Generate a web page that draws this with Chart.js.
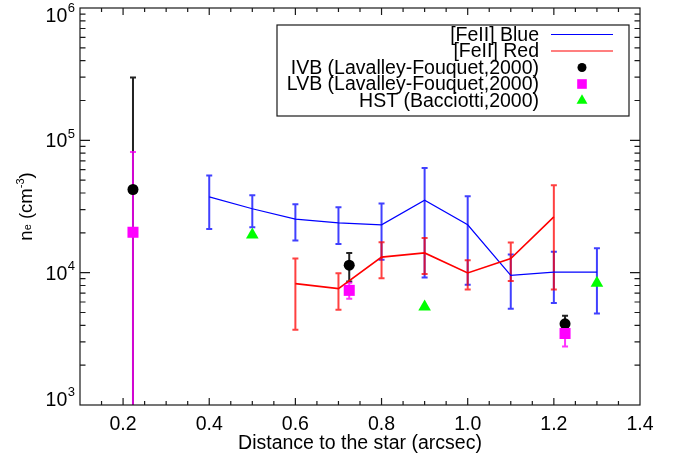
<!DOCTYPE html>
<html>
<head>
<meta charset="utf-8">
<script src="https://cdn.jsdelivr.net/npm/chart.js@4.4.0/dist/chart.umd.min.js"></script>
<style>
  html, body { margin: 0; padding: 0; background: #fff; }
  #box { width: 675px; height: 459px; }
</style>
</head>
<body>
<div id="box"><canvas id="neChart"></canvas></div>
<script>
// ---- Datos ----
const xTicks = [0.2, 0.4, 0.6, 0.8, 1.0, 1.2, 1.4];
const yTicks = [1e3, 1e4, 1e5, 1e6];

const blueX  = [0.4, 0.5, 0.6, 0.7, 0.8, 0.9, 1.0, 1.1, 1.2, 1.3];
const blueNe = [37400, 30400, 25400, 23800, 23000, 35300, 23000, 9550, 10100, 10100];
const blueHi = [54300, 38500, 32900, 31200, 33300, 61700, 37800, 13700, 14400, 15300];
const blueLo = [21400, 22000, 17500, 16500, 12500, 9200, 8100, 5340, 5890, 4920];

const redX  = [0.6, 0.7, 0.8, 0.9, 1.0, 1.1, 1.2];
const redNe = [8260, 7570, 13100, 14100, 9950, 12800, 26400];
const redHi = [12800, 9890, 17000, 18300, 12400, 16900, 45800];
const redLo = [3700, 5250, 9080, 9770, 7460, 8650, 7460];

const ivbX  = [0.223, 0.725, 1.226];
const ivbNe = [42500, 11400, 4110];
const ivbHi = [298000, 14100, 4720];
const ivbLo = [500, 8590, 3600];   // la primera barra sale por debajo del eje

const lvbX  = [0.223, 0.725, 1.226];
const lvbNe = [20200, 7350, 3470];
const lvbHi = [81500, 8400, 4110];
const lvbLo = [500, 6350, 2770];

const hstX  = [0.5, 0.9, 1.3];
const hstNe = [19300, 5520, 8350];

const FONT = "Liberation Sans, Helvetica, Arial, sans-serif";
const FS = 19.5;

function pts(xs, ys) {
  return xs.map((x, i) => ({ x, y: ys[i] }));
}

// ---- Barras de error ----
const errorBars = {
  id: "errorBars",
  beforeDatasetsDraw(chart) {
    const { ctx, chartArea: a, scales: { x, y } } = chart;
    ctx.save();
    ctx.beginPath();
    ctx.rect(a.left, a.top, a.right - a.left, a.bottom - a.top);
    ctx.clip();
    // mismo orden que los marcadores: el de menor "order" encima
    const sets = chart.data.datasets.slice().sort((p, q) => q.order - p.order);
    sets.forEach(ds => {
      if (!ds.errLo) return;
      ctx.strokeStyle = ds.errColor;
      ctx.lineWidth = 2;
      ds.data.forEach((p, i) => {
        const px = x.getPixelForValue(p.x);
        const top = y.getPixelForValue(ds.errHi[i]);
        const bot = y.getPixelForValue(ds.errLo[i]);
        ctx.beginPath();
        ctx.moveTo(px, top); ctx.lineTo(px, bot);
        ctx.moveTo(px - 3, top); ctx.lineTo(px + 3, top);
        ctx.moveTo(px - 3, bot); ctx.lineTo(px + 3, bot);
        ctx.stroke();
      });
    });
    ctx.restore();
  }
};

// ---- Marco, marcas hacia dentro, etiquetas del eje y, leyenda ----
const frameAndLegend = {
  id: "frameAndLegend",
  afterDraw(chart) {
    const { ctx, chartArea: a, scales: { x, y } } = chart;
    ctx.save();
    ctx.strokeStyle = "#1a1a1a";
    ctx.lineWidth = 1.2;
    ctx.strokeRect(a.left, a.top, a.right - a.left, a.bottom - a.top);

    ctx.beginPath();
    // eje x: mayores cada 0.2, menores cada 0.05
    for (let k = 3; k < 28; k++) {
      const v = k * 0.05;
      const px = x.getPixelForValue(v);
      const major = k % 4 === 0;
      const len = major ? 7 : 4;
      ctx.moveTo(px, a.bottom); ctx.lineTo(px, a.bottom - len);
      ctx.moveTo(px, a.top); ctx.lineTo(px, a.top + len);
    }
    // eje y: décadas y 2..9
    yTicks.forEach((d, j) => {
      for (let m = 1; m <= 9; m++) {
        const v = d * m;
        if (v > 1e6 || (m === 1 && (j === 0 || j === yTicks.length - 1))) continue;
        const py = y.getPixelForValue(v);
        const len = m === 1 ? 10 : 5.5;
        ctx.moveTo(a.left, py); ctx.lineTo(a.left + len, py);
        ctx.moveTo(a.right, py); ctx.lineTo(a.right - len, py);
      }
    });
    ctx.stroke();

    // etiquetas 10^n (las de los extremos van algo hacia dentro)
    ctx.fillStyle = "#000";
    yTicks.forEach((v, j) => {
      let py = y.getPixelForValue(v);
      if (j === 0) py -= 6.5;
      if (j === yTicks.length - 1) py += 6.5;
      const exp = String(Math.round(Math.log10(v)));
      ctx.font = "13px " + FONT;
      const ew = ctx.measureText(exp).width;
      ctx.textAlign = "left";
      ctx.textBaseline = "alphabetic";
      ctx.fillText(exp, a.left - 5 - ew, py - 2.5);
      ctx.font = FS + "px " + FONT;
      ctx.textAlign = "right";
      ctx.fillText("10", a.left - 5 - ew - 0.5, py + 7);
    });

    // título del eje y: n_e (cm^-3)
    const parts = [
      { t: "n", f: 18.5, dy: 0 },
      { t: "e", f: 11, dy: -1 },
      { t: " (cm", f: 18.5, dy: 0 },
      { t: "-3", f: 11, dy: -8 },
      { t: ")", f: 18.5, dy: 0 }
    ];
    ctx.save();
    ctx.translate(32, (a.top + a.bottom) / 2);
    ctx.rotate(-Math.PI / 2);
    let total = 0;
    parts.forEach(p => { ctx.font = p.f + "px " + FONT; p.w = ctx.measureText(p.t).width; total += p.w; });
    let cx = -total / 2;
    ctx.textAlign = "left";
    parts.forEach(p => {
      ctx.font = p.f + "px " + FONT;
      ctx.fillText(p.t, cx, p.dy);
      cx += p.w;
    });
    ctx.restore();

    // leyenda
    const bx = a.right - 363, by = a.top + 17, bw = 352, bh = 91;
    ctx.lineWidth = 1.2;
    ctx.strokeStyle = "#1a1a1a";
    ctx.strokeRect(bx, by, bw, bh);
    ctx.font = FS + "px " + FONT;
    ctx.textAlign = "right";
    ctx.textBaseline = "middle";
    chart.data.datasets.forEach((ds, i) => {
      const ry = by + 9.5 + 16.5 * i;
      ctx.fillStyle = "#000";
      ctx.fillText(ds.label, bx + 262, ry + 1);
      const sx = bx + 305;
      if (ds.showLine) {
        ctx.strokeStyle = ds.borderColor;
        ctx.lineWidth = 1.2;
        ctx.beginPath();
        ctx.moveTo(sx - 31, ry); ctx.lineTo(sx + 31, ry);
        ctx.stroke();
      } else {
        ctx.fillStyle = ds.backgroundColor;
        Chart.helpers.drawPoint(ctx, { pointStyle: ds.pointStyle, radius: ds.pointRadius - 1, borderWidth: 0, rotation: 0 }, sx, ry);
      }
    });
    ctx.restore();
  }
};

new Chart(document.getElementById("neChart"), {
  type: "scatter",
  data: {
    datasets: [
      { label: "[FeII] Blue", data: pts(blueX, blueNe), showLine: true, borderColor: "#0000ff",
        borderWidth: 1.2, pointRadius: 0, errHi: blueHi, errLo: blueLo, errColor: "rgba(0,0,255,0.75)", order: 5 },
      { label: "[FeII] Red", data: pts(redX, redNe), showLine: true, borderColor: "#ff0000",
        borderWidth: 1.6, pointRadius: 0, errHi: redHi, errLo: redLo, errColor: "rgba(255,0,0,0.75)", order: 4 },
      { label: "IVB (Lavalley-Fouquet,2000)", data: pts(ivbX, ivbNe), pointStyle: "circle", pointRadius: 5.5,
        backgroundColor: "#000", borderWidth: 0, errHi: ivbHi, errLo: ivbLo, errColor: "#222", order: 3 },
      { label: "LVB (Lavalley-Fouquet,2000)", data: pts(lvbX, lvbNe), pointStyle: "rect", pointRadius: 7.8,
        backgroundColor: "#ff00ff", borderWidth: 0, errHi: lvbHi, errLo: lvbLo, errColor: "rgba(255,0,255,0.8)", order: 2 },
      { label: "HST (Bacciotti,2000)", data: pts(hstX, hstNe), pointStyle: "triangle", pointRadius: 7.3,
        backgroundColor: "#00ff00", borderWidth: 0, order: 1 }
    ]
  },
  options: {
    responsive: true,
    maintainAspectRatio: false,
    animation: false,
    layout: { padding: { top: 8, right: 35, left: 0, bottom: 0 } },
    plugins: { legend: { display: false }, tooltip: { enabled: false } },
    scales: {
      x: {
        type: "linear", min: 0.1, max: 1.4,
        afterBuildTicks: s => { s.ticks = xTicks.map(v => ({ value: v })); },
        afterFit: s => { s.height = 54; },
        grid: { display: false, drawTicks: false },
        border: { display: false },
        ticks: { callback: v => v.toFixed(1), color: "#000", font: { family: FONT, size: FS },
                 padding: 8, maxRotation: 0, autoSkip: false },
        title: { display: true, text: "Distance to the star (arcsec)", color: "#000",
                 font: { family: FONT, size: FS }, padding: { top: 0, bottom: 4 } }
      },
      y: {
        type: "logarithmic", min: 1e3, max: 1e6,
        afterBuildTicks: s => { s.ticks = yTicks.map(v => ({ value: v })); },
        afterFit: s => { s.width = 80; },
        grid: { display: false, drawTicks: false },
        border: { display: false },
        ticks: { display: false }
      }
    }
  },
  plugins: [errorBars, frameAndLegend]
});
</script>
</body>
</html>
